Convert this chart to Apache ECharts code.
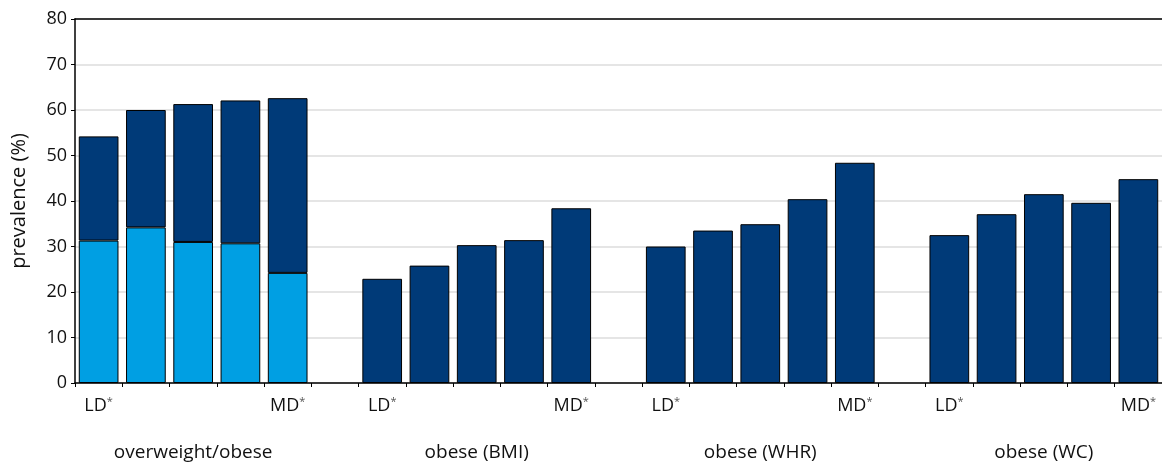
<!DOCTYPE html>
<html>
<head>
<meta charset="utf-8">
<script src="https://cdn.jsdelivr.net/npm/echarts@6/dist/echarts.min.js"></script>
<style>html,body{margin:0;padding:0;background:#fff}#c{width:1162px;height:463px}</style>
</head>
<body>
<div id="c"></div>
<script>
// 23 category slots: 4 groups of 5 bars, separated by empty slots
const slotLabels = ['LD','','','','MD','', 'LD','','','','MD','', 'LD','','','','MD','', 'LD','','','','MD'];
const groupNames = ['overweight/obese','obese (BMI)','obese (WHR)','obese (WC)'];
const groupCenterSlot = [2, 8, 14, 20];
// overweight (light part of first group)
const overweight = [31.3, 34.2, 31.0, 30.7, 24.2];
// obese (BMI) – also the dark upper part of first group
const obeseBMI = [22.9, 25.8, 30.3, 31.4, 38.4];
const obeseWHR = [30.0, 33.5, 34.9, 40.4, 48.4];
const obeseWC = [32.5, 37.1, 41.5, 39.6, 44.8];
const yTicks = {min: 0, max: 80, interval: 10};

const gap = '-';
const lightSeries = overweight.concat(Array(18).fill(gap));
// stacking: first group light + dark stacked; other groups dark only
const darkStacked = obeseBMI.concat(Array(18).fill(gap));
const darkOther = Array(5).fill(gap).concat([gap], obeseBMI, [gap], obeseWHR, [gap], obeseWC);

const groupLabelsSlots = slotLabels.map((_, i) => {
  const k = groupCenterSlot.indexOf(i);
  return k >= 0 ? groupNames[k] : '';
});

const FONT = 'Open Sans';
const DARK = '#003a78';
const LIGHT = '#009fe3';

const chart = echarts.init(document.getElementById('c'));
chart.setOption({
  animation: false,
  textStyle: {fontFamily: FONT},
  grid: {left: 75, right: 0, top: 19, bottom: 80},
  xAxis: [
    {
      type: 'category', data: slotLabels, position: 'bottom',
      axisLine: {lineStyle: {color: '#000', width: 1.5}},
      axisTick: {show: true, length: 4, lineStyle: {color: '#000'}},
      axisLabel: {
        interval: 0, margin: 13,
        formatter: v => v ? '{b|' + v + '}{s|*}' : '',
        rich: {
          b: {fontFamily: FONT, fontSize: 18, color: '#111'},
          s: {fontFamily: FONT, fontSize: 11, color: '#555', padding: [0, 0, 9, 0]}
        }
      }
    },
    {
      type: 'category', data: groupLabelsSlots, position: 'bottom', offset: 52,
      axisLine: {show: false}, axisTick: {show: false},
      axisLabel: {interval: 0, fontSize: 19, color: '#111', fontFamily: FONT}
    },
    {
      type: 'category', data: slotLabels, position: 'top',
      axisLine: {show: true, lineStyle: {color: '#000', width: 1.5}},
      axisTick: {show: false}, axisLabel: {show: false}
    }
  ],
  yAxis: {
    type: 'value', min: yTicks.min, max: yTicks.max, interval: yTicks.interval,
    name: 'prevalence (%)', nameLocation: 'middle', nameGap: 46,
    nameTextStyle: {fontSize: 20, color: '#111', fontFamily: FONT},
    axisLine: {show: true, lineStyle: {color: '#000', width: 1.5}},
    axisTick: {show: true, length: 4, lineStyle: {color: '#000'}},
    axisLabel: {fontSize: 18, color: '#111', margin: 8, fontFamily: FONT},
    splitLine: {lineStyle: {color: '#dcdcdc', width: 1.5}}
  },
  series: [
    {
      type: 'bar', stack: 's', data: lightSeries, barCategoryGap: '16%',
      itemStyle: {color: LIGHT, borderColor: '#000', borderWidth: 1}
    },
    {
      type: 'bar', stack: 's', data: darkStacked,
      itemStyle: {color: DARK, borderColor: '#000', borderWidth: 1}
    },
    {
      type: 'bar', stack: 's', data: darkOther,
      itemStyle: {color: DARK, borderColor: '#000', borderWidth: 1}
    }
  ]
});
</script>
</body>
</html>
